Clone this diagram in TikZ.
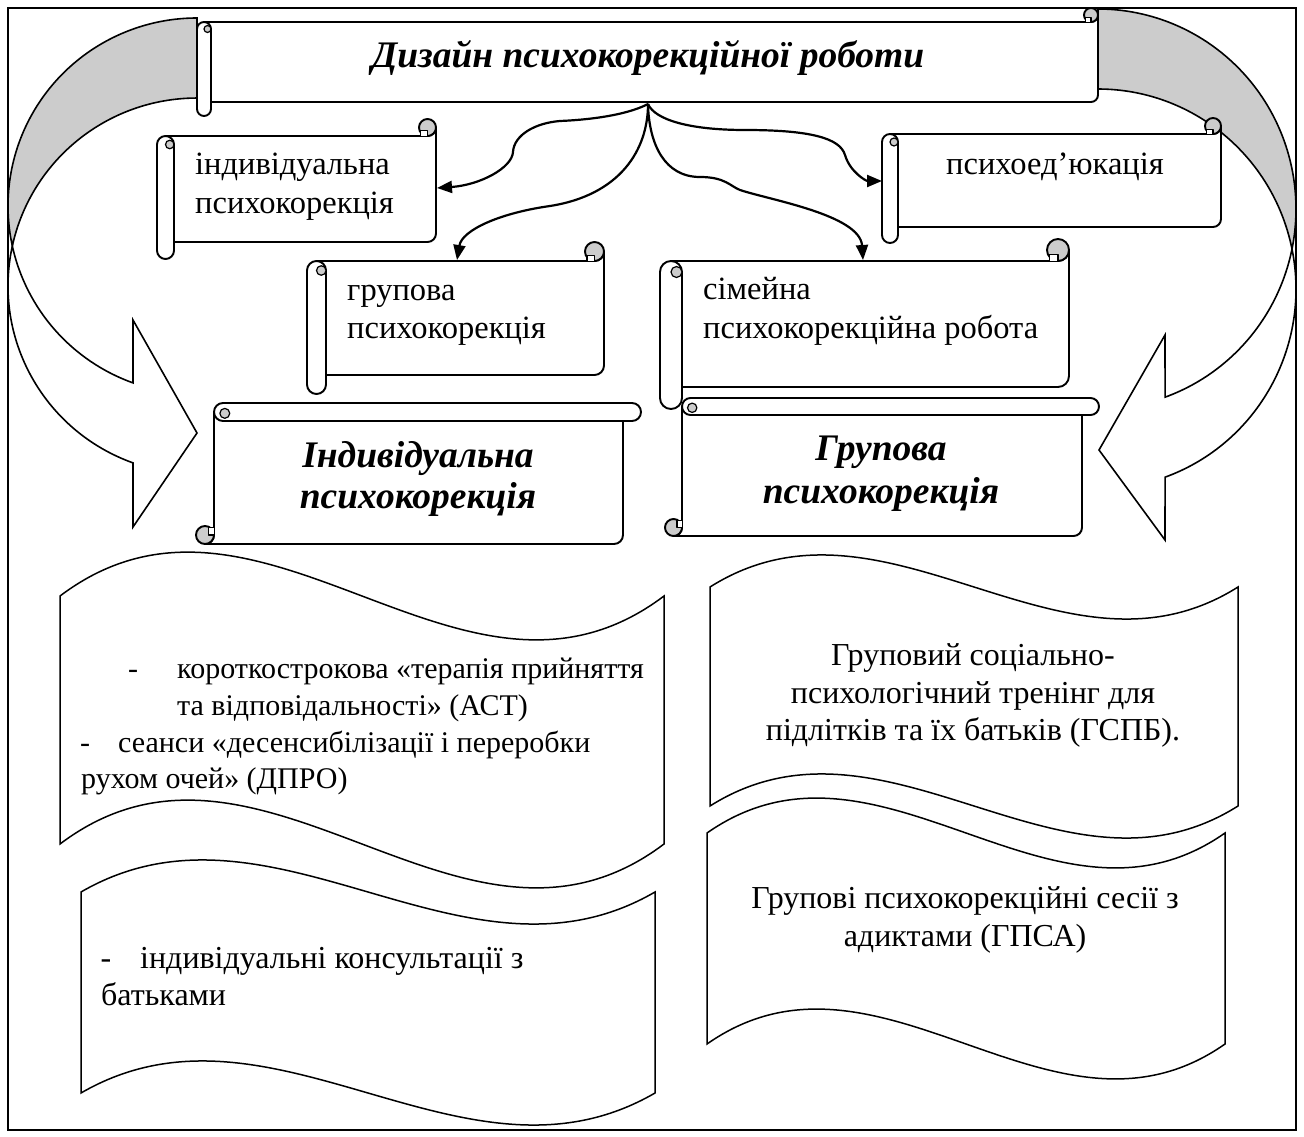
\documentclass[tikz,border=0pt]{standalone}
\usepackage{fontspec}
\setmainfont{Liberation Serif}
\usetikzlibrary{arrows.meta}
\definecolor{rollgray}{RGB}{204,204,204}
\tikzset{
  outline/.style={line width=1.9pt, line join=round},
  thinline/.style={line width=1.2pt, line join=round},
  waveline/.style={line width=1.5pt},
  bigarrow/.style={line width=1.6pt, line join=miter},
  frameline/.style={line width=1.5pt},
  conn/.style={line width=2.2pt, -{Triangle[length=15pt,width=12pt]}},
  stxt/.style={inner sep=0pt, font=\fontsize{32.5}{38}\selectfont},
  btxt/.style={inner sep=0pt, anchor=base, font=\fontsize{37.5}{40}\selectfont\bfseries\itshape},
  ttxt/.style={inner sep=0pt, anchor=base, font=\fontsize{37.5}{40}\selectfont\bfseries\itshape},
  wtxt/.style={inner sep=0pt, font=\fontsize{30}{36}\selectfont},
  wtxtb/.style={inner sep=0pt, font=\fontsize{32}{38}\selectfont}
}
% horizontal scroll: L T R B r (pixel values, y downwards)
\newcommand{\myhscroll}[5]{%
  \filldraw[outline, fill=white] ({#1+#5},{-#2}) -- ({#3-#5},{-#2})
    arc[start angle=-90, end angle=0, radius=#5]
    -- ({#3},{-#4+#5}) arc[start angle=0, end angle=-90, radius=#5]
    -- ({#1+#5},{-#4}) -- cycle;
  \filldraw[outline, fill=rollgray] ({#3-#5},{-#2+#5}) circle[radius=#5];
  \filldraw[thinline, fill=white] ({#3-1.8*#5},{-#2}) -- ({#3-1.8*#5},{-#2+0.6*#5})
    -- ({#3-#5},{-#2+0.6*#5}) -- ({#3-#5},{-#2});
  \filldraw[outline, fill=white] ({#1},{-#2-#5}) arc[start angle=180, end angle=0, radius=#5]
    -- ({#1+2*#5},{-#4-#5}) arc[start angle=0, end angle=-180, radius=#5] -- cycle;
  \filldraw[thinline, fill=rollgray] ({#1+1.5*#5},{-#2-#5}) circle[radius=0.5*#5];
}
% vertical scroll: L T R B r
\newcommand{\myvscroll}[5]{%
  \filldraw[outline, fill=white] ({#1},{-#2-#5}) -- ({#1},{-#4+#5})
    arc[start angle=0, end angle=-90, radius=#5]
    -- ({#3-#5},{-#4}) arc[start angle=-90, end angle=0, radius=#5]
    -- ({#3},{-#2-#5}) -- cycle;
  \filldraw[outline, fill=rollgray] ({#1-#5},{-#4+#5}) circle[radius=#5];
  \filldraw[thinline, fill=white] ({#1},{-#4+1.8*#5}) -- ({#1-0.6*#5},{-#4+1.8*#5})
    -- ({#1-0.6*#5},{-#4+#5}) -- ({#1},{-#4+#5});
  \filldraw[outline, fill=white] ({#1+#5},{-#2}) -- ({#3+#5},{-#2})
    arc[start angle=90, end angle=-90, radius=#5]
    -- ({#1+#5},{-#2-2*#5}) arc[start angle=270, end angle=90, radius=#5] -- cycle;
  \filldraw[thinline, fill=rollgray] ({#1+1.2*#5},{-#2-1.15*#5}) circle[radius=0.55*#5];
}
% wave: l r y1 y4 dy
\newcommand{\mywave}[5]{%
  \filldraw[waveline, fill=white] (#1,{-#3})
    .. controls ({#1+(#2-#1)/3},{-#3+#5}) and ({#1+2*(#2-#1)/3},{-#3-#5}) .. (#2,{-#3})
    -- (#2,{-#4})
    .. controls ({#2-(#2-#1)/3},{-#4-#5}) and ({#2-2*(#2-#1)/3},{-#4+#5}) .. (#1,{-#4})
    -- cycle;
}
\begin{document}
\begin{tikzpicture}[x=1pt,y=1pt]
\useasboundingbox (0,0) rectangle (1304,-1137);
\fill[white] (0,0) rectangle (1304,-1137);
\draw[frameline] (8,-8) rectangle (1296,-1130);

% left curved arrow
\filldraw[bigarrow, fill=rollgray] (197,-18)
  arc[start angle=90,end angle=192.29,x radius=189,y radius=188]
  arc[start angle=167.71,end angle=90,x radius=189,y radius=188] -- cycle;
\filldraw[bigarrow, fill=white] ({197+189*cos(192.29)},{-206+188*sin(192.29)})
  arc[start angle=192.29,end angle=250.2,x radius=189,y radius=188]
  -- (133,-320) -- (197,-433) -- (133,-527)
  -- ({197+189*cos(250.2)},{-286+188*sin(250.2)})
  arc[start angle=250.2,end angle=167.71,x radius=189,y radius=188] -- cycle;

% right curved arrow
\filldraw[bigarrow, fill=rollgray] (1098,-9)
  arc[start angle=90,end angle=-11.54,x radius=198,y radius=200]
  arc[start angle=11.54,end angle=90,x radius=198,y radius=200] -- cycle;
\filldraw[bigarrow, fill=white] ({1098+198*cos(-11.54)},{-209+200*sin(-11.54)})
  arc[start angle=-11.54,end angle=-70.2,x radius=198,y radius=200]
  -- (1165,-335) -- (1099,-450) -- (1165,-540)
  -- ({1098+198*cos(-70.2)},{-289+200*sin(-70.2)})
  arc[start angle=-70.2,end angle=11.54,x radius=198,y radius=200] -- cycle;

% title scroll
\myhscroll{197}{22}{1098}{102}{7}
\node[ttxt] (title) at (648,-68) {Дизайн психокорекційної роботи};

% small scrolls
\myhscroll{157}{136}{436}{242}{8.5}
\node[stxt, anchor=base west] (s1a) at (195,-175) {індивідуальна};
\node[stxt, anchor=base west] (s1b) at (195,-213) {психокорекція};

\myhscroll{307}{261}{604}{375}{9.5}
\node[stxt, anchor=base west] (s2a) at (347,-300) {групова};
\node[stxt, anchor=base west] (s2b) at (347,-338) {психокорекція};

\myhscroll{882}{134}{1221}{227}{8}
\node[stxt, anchor=base] (s3) at (1055,-175) {психоед’юкація};

\myhscroll{660}{261}{1069}{387}{11}
\node[stxt, anchor=base west] (s4a) at (703,-299) {сімейна};
\node[stxt, anchor=base west] (s4b) at (703,-338) {психокорекційна робота};

% big scrolls
\myvscroll{214}{403}{623}{544}{9}
\node[btxt] (b1a) at (418,-467) {Індивідуальна};
\node[btxt] (b1b) at (418,-508) {психокорекція};

\myvscroll{682}{398}{1082}{536}{8.5}
\node[btxt] (b2a) at (881,-460) {Групова};
\node[btxt] (b2b) at (881,-503) {психокорекція};

% waves
\mywave{60}{664}{596}{844}{152}
\node[wtxt, anchor=base] (w1d1) at (133,-678) {-};
\node[wtxt, anchor=base west] (w1a) at (177,-678) {короткострокова «терапія прийняття};
\node[wtxt, anchor=base west] (w1b) at (177,-715) {та відповідальності» (АСТ)};
\node[wtxt, anchor=base] (w1d2) at (85,-752) {-};
\node[wtxt, anchor=base west] (w1c) at (118,-752) {сеанси «десенсибілізації і переробки};
\node[wtxt, anchor=base west] (w1e) at (81,-788) {рухом очей» (ДПРО)};

\mywave{81}{655}{892}{1093}{111}
\node[wtxtb, anchor=base] (w3d) at (106,-968) {-};
\node[wtxtb, anchor=base west] (w3a) at (140,-968) {індивідуальні консультації з};
\node[wtxtb, anchor=base west] (w3b) at (101,-1005) {батьками};

\mywave{710}{1238}{587}{806}{111}
\node[wtxtb, anchor=base] (w2a) at (973,-665) {Груповий соціально-};
\node[wtxtb, anchor=base] (w2b) at (973,-703) {психологічний тренінг для};
\node[wtxtb, anchor=base] (w2c) at (973,-740) {підлітків та їх батьків (ГСПБ).};

\mywave{707}{1225}{833}{1044}{121}
\node[wtxtb, anchor=base] (w4a) at (965,-908) {Групові психокорекційні сесії з};
\node[wtxtb, anchor=base] (w4b) at (965,-946) {адиктами (ГПСА)};

% connectors
\coordinate (tb) at (648,-104);
\coordinate (e1) at (437,-188);
\coordinate (e2) at (457,-260);
\coordinate (e3) at (863,-260);
\coordinate (e4) at (882,-181);
\draw[conn] (tb) .. controls (625,-116) and (585,-120) .. (560,-121)
  .. controls (535,-123) and (514,-135) .. (513,-152)
  .. controls (512,-168) and (480,-185) .. (e1);
\draw[conn] (tb) .. controls (648,-150) and (620,-195) .. (550,-206)
  .. controls (500,-213) and (462,-230) .. (e2);
\draw[conn] (tb) .. controls (649,-145) and (665,-177) .. (700,-177)
  .. controls (725,-177) and (730,-186) .. (740,-190)
  .. controls (770,-200) and (860,-215) .. (e3);
\draw[conn] (tb) .. controls (655,-120) and (690,-130) .. (745,-130)
  .. controls (810,-130) and (840,-138) .. (845,-155)
  .. controls (850,-172) and (866,-181) .. (e4);
\end{tikzpicture}
\end{document}
